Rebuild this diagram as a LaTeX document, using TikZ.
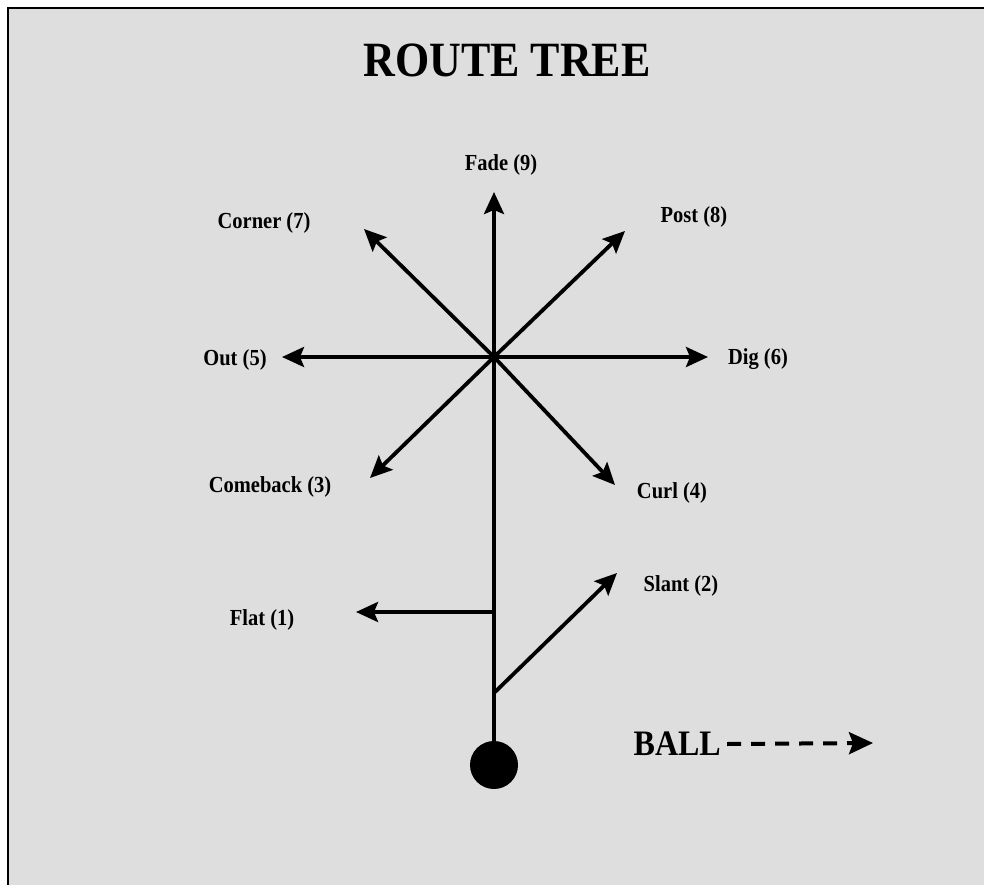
\documentclass[tikz,border=0pt]{standalone}
\usepackage{fontspec}
\setmainfont{Liberation Serif}
\usetikzlibrary{arrows.meta}
\definecolor{panelgray}{HTML}{DEDEDE}
\tikzset{
  route/.style={line width=3.8pt, -{Stealth[length=22pt,width=20pt,inset=4pt]}},
  lbl/.style={font=\fontsize{20.5}{22}\selectfont\bfseries, inner sep=0pt},
}
\begin{document}
\begin{tikzpicture}[x=1pt,y=-1pt]
\useasboundingbox (0,0) rectangle (984,885);
\fill[white] (0,0) rectangle (984,885);
\draw[fill=panelgray, line width=2pt] (8,8) -- (8,890) -- (990,890) -- (990,8) -- cycle;
\node[font=\fontsize{44}{48}\selectfont\bfseries, inner sep=0pt] (title) at (507,60) {\scalebox{1}[1.12]{ROUTE TREE}};
% hub and tips
\coordinate (hub) at (494,357);
\coordinate (fadeT) at (494,192);
\coordinate (postT) at (625,231);
\coordinate (cornerT) at (364,229);
\coordinate (digT) at (708,357);
\coordinate (outT) at (282,357);
\coordinate (curlT) at (615,485);
\coordinate (comebackT) at (370,478);
\coordinate (flatS) at (494,612);
\coordinate (flatT) at (356,612);
\coordinate (slantS) at (494,693);
\coordinate (slantT) at (617,573);
\node[circle, fill=black, minimum size=48pt, inner sep=0pt] (ball) at (494,765) {};
% labels
\node[lbl] (fade) at (501,165) {\scalebox{1}[1.12]{Fade (9)}};
\node[lbl] (post) at (694,217) {\scalebox{1}[1.12]{Post (8)}};
\node[lbl] (corner) at (264,223) {\scalebox{1}[1.12]{Corner (7)}};
\node[lbl] (out) at (235,360) {\scalebox{1}[1.12]{Out (5)}};
\node[lbl] (dig) at (758,359) {\scalebox{1}[1.12]{Dig (6)}};
\node[lbl] (comeback) at (270,487) {\scalebox{1}[1.12]{Comeback (3)}};
\node[lbl] (curl) at (672,493) {\scalebox{1}[1.12]{Curl (4)}};
\node[lbl] (flat) at (262,620) {\scalebox{1}[1.12]{Flat (1)}};
\node[lbl] (slant) at (681,586) {\scalebox{1}[1.12]{Slant (2)}};
\node[font=\fontsize{32}{36}\selectfont\bfseries, inner sep=0pt, anchor=east] (balltxt) at (721,744) {\scalebox{1}[1.12]{BALL}};
% routes
\draw[route] (ball.north) -- (fadeT);
\draw[route] (hub) -- (postT);
\draw[route] (hub) -- (cornerT);
\draw[route] (hub) -- (digT);
\draw[route] (hub) -- (outT);
\draw[route] (hub) -- (curlT);
\draw[route] (hub) -- (comebackT);
\draw[route] (flatS) -- (flatT);
\draw[route] (slantS) -- (slantT);
\coordinate (ballArrowT) at (873,743);
\draw[line width=4pt, dash pattern=on 14pt off 10pt, -{Stealth[length=24pt,width=22pt,inset=4pt]}] (balltxt.east) ++(6,0) coordinate (ballArrowS) -- (ballArrowT);
\end{tikzpicture}
\end{document}
